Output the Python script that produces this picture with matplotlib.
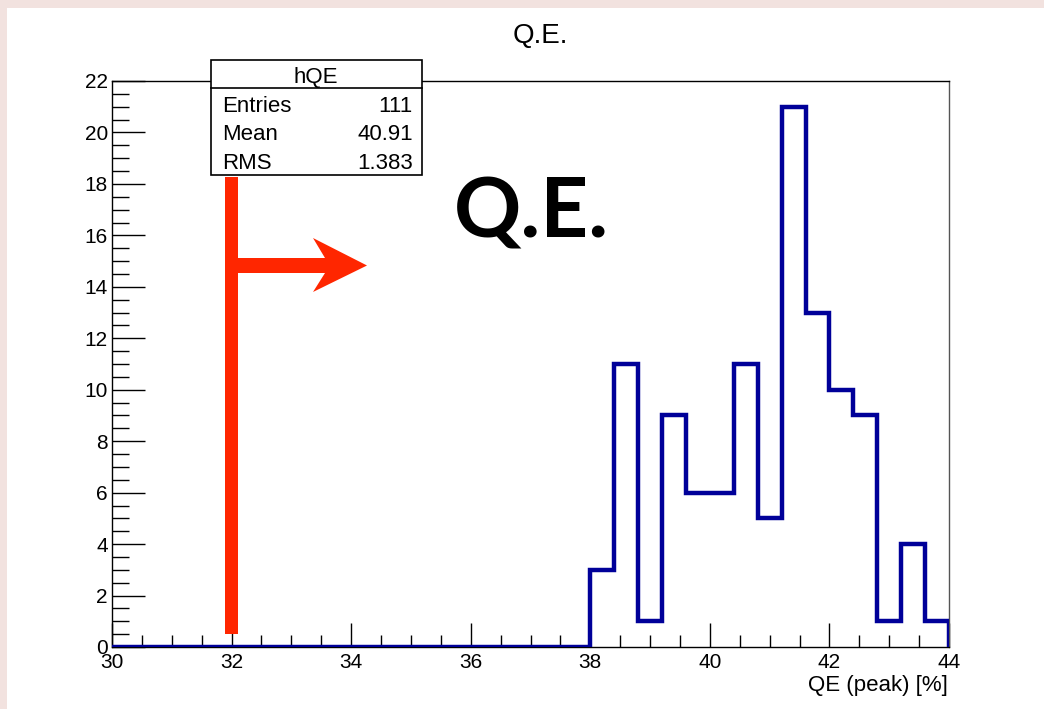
import numpy as np
import matplotlib
matplotlib.use("Agg")
import matplotlib.pyplot as plt
from matplotlib.patches import Rectangle, Polygon
from matplotlib.ticker import MultipleLocator

# histogram hQE: 35 bins of 0.4 between 30 and 44
bin_edges = np.linspace(30, 44, 36)
counts = [0] * 20 + [3, 11, 1, 9, 6, 6, 11, 5, 21, 13, 10, 9, 1, 4, 1]

title = "Q.E."
x_label = "QE (peak) [%]"
stats_name = "hQE"
stats_rows = [("Entries", "111"), ("Mean", "40.91"), ("RMS", "1.383")]

plt.rcParams['font.family'] = ['Liberation Sans', 'DejaVu Sans']

W, H = 1044, 709
fig = plt.figure(figsize=(W / 100, H / 100), dpi=100)
fig.patch.set_facecolor('#f2e2df')
# white slide panel
fig.patches.append(Rectangle((7 / W, 0), 1, 1 - 8 / H, transform=fig.transFigure,
                             facecolor='white', edgecolor='none', zorder=-10))


def fx(px):
    return px / W


def fy(py):
    return 1 - py / H


ax = fig.add_axes([fx(112), fy(647), fx(949) - fx(112), fy(81) - fy(647)])
ax.set_facecolor('none')
ax.stairs(counts, bin_edges, color='#000099', lw=3.2, zorder=3)
ax.set_xlim(30, 44)
ax.set_ylim(0, 22)

ax.xaxis.set_major_locator(MultipleLocator(2))
ax.xaxis.set_minor_locator(MultipleLocator(0.5))
ax.yaxis.set_major_locator(MultipleLocator(2))
ax.yaxis.set_minor_locator(MultipleLocator(0.5))
ax.tick_params(axis='x', which='major', direction='in', length=17, width=1,
               labelsize=15, pad=4)
ax.tick_params(axis='x', which='minor', direction='in', length=9, width=1)
ax.tick_params(axis='y', which='major', direction='in', length=24, width=1,
               labelsize=15, pad=3)
ax.tick_params(axis='y', which='minor', direction='in', length=12, width=1)
for s in ax.spines.values():
    s.set_linewidth(1)
ax.spines['right'].set_color('#555555')

fig.text(fx(948), fy(691), x_label, ha='right', va='baseline', fontsize=16)
fig.text(fx(540), fy(43), title, ha='center', va='baseline', fontsize=20)

# stats box
bx0, bx1, by0, by1, bsep = 211, 422, 60, 175, 88
fig.patches.append(Rectangle((fx(bx0), fy(by1)), fx(bx1) - fx(bx0), fy(by0) - fy(by1),
                             transform=fig.transFigure, facecolor='white',
                             edgecolor='black', lw=1.2, zorder=5))
fig.lines.append(plt.Line2D([fx(bx0), fx(bx1)], [fy(bsep), fy(bsep)],
                            transform=fig.transFigure, color='black', lw=1.2, zorder=6))
fig.text(fx(316), fy(83), stats_name, ha='center', va='baseline',
         fontsize=16, zorder=7)
for i, (k, v) in enumerate(stats_rows):
    yy = fy(112 + i * 28.5)
    fig.text(fx(222), yy, k, ha='left', va='baseline', fontsize=16, zorder=7)
    fig.text(fx(413), yy, v, ha='right', va='baseline', fontsize=16, zorder=7)

# slide annotation: big label and red arrow
fig.text(fx(531), fy(238), "Q.E.", ha='center', va='baseline', fontsize=60,
         family='Lato', fontweight='bold', color='black', zorder=7)

red = '#ff2600'
fig.patches.append(Rectangle((fx(224.5), fy(634)), fx(13), fy(177) - fy(634),
                             transform=fig.transFigure, facecolor=red,
                             edgecolor='none', zorder=6))
arrow_px = [(232, 258), (325, 258), (313, 238), (367, 265.5), (313, 292),
            (325, 273), (232, 273)]
fig.patches.append(Polygon([(fx(x), fy(y)) for x, y in arrow_px], closed=True,
                           transform=fig.transFigure, facecolor=red,
                           edgecolor='none', zorder=6))

fig.savefig("out.png", dpi=100)
